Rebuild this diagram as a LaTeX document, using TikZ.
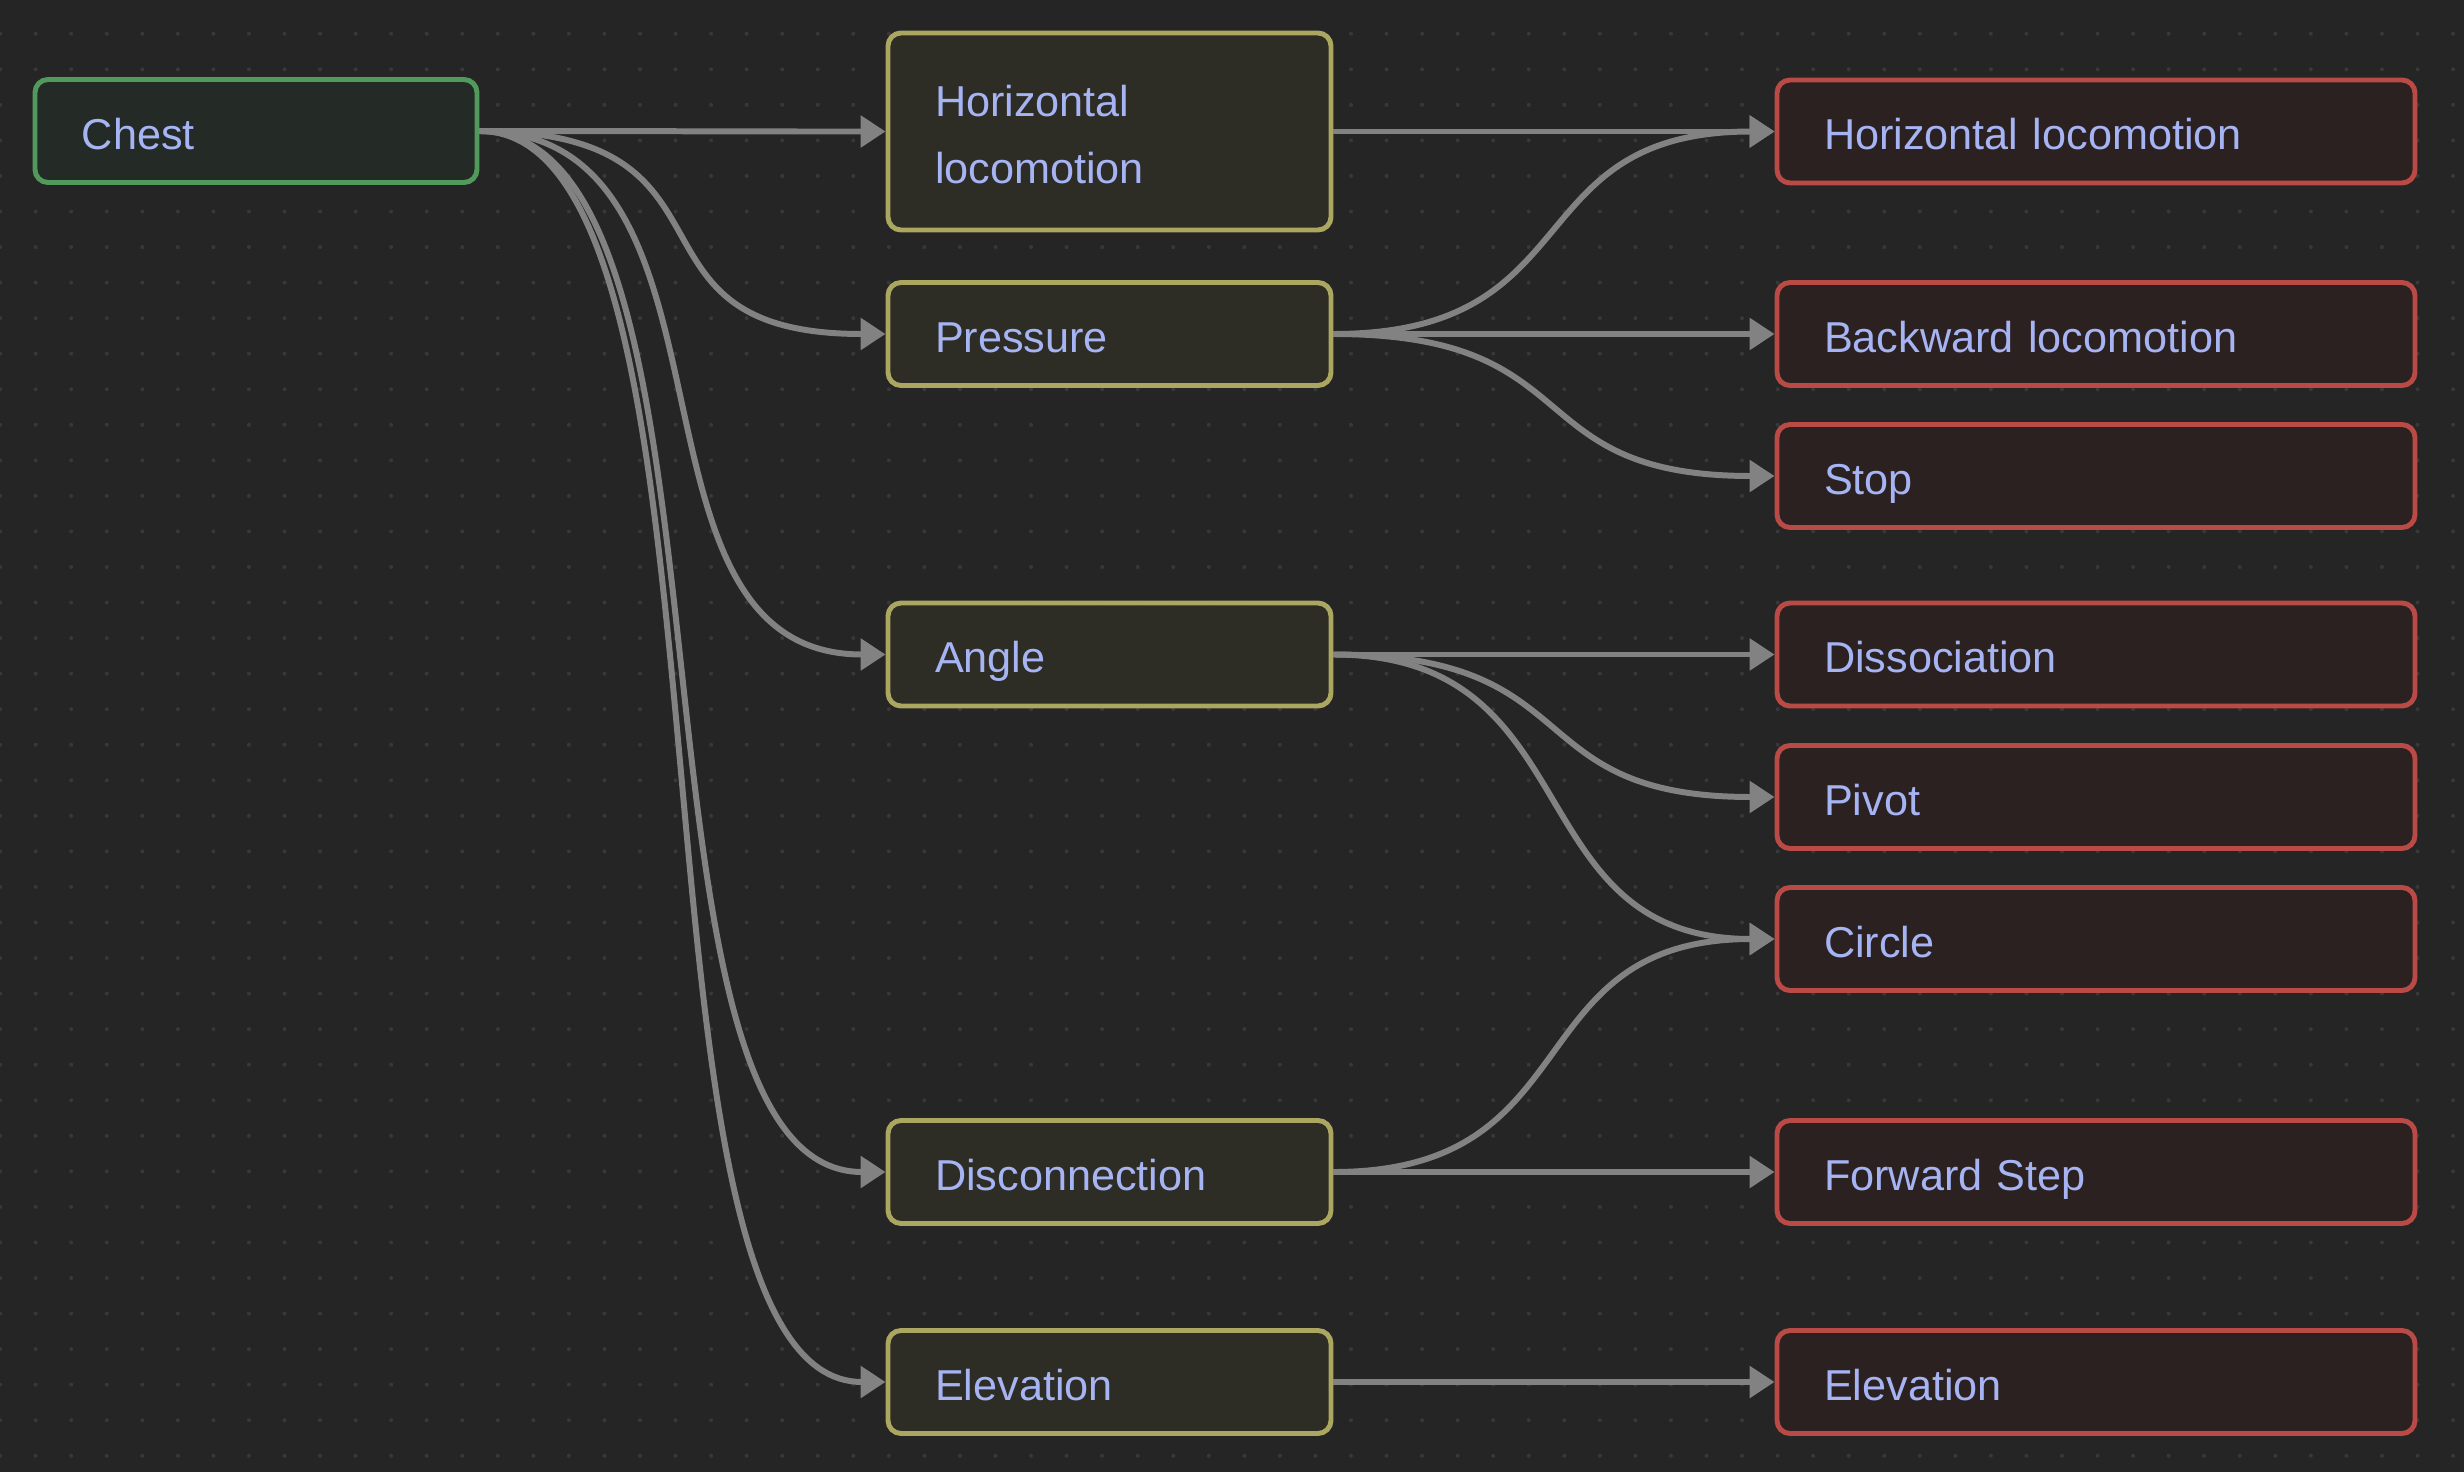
\documentclass[tikz,border=0pt]{standalone}
\usepackage{fontspec}
\setmainfont{Liberation Sans}
\usetikzlibrary{arrows.meta}

\definecolor{canvasbg}{HTML}{252525}
\definecolor{griddot}{HTML}{383838}
\definecolor{nodetext}{HTML}{A6B4F4}
\definecolor{rootline}{HTML}{519A5B}
\definecolor{rootfill}{HTML}{242A25}
\definecolor{featline}{HTML}{ABA760}
\definecolor{featfill}{HTML}{2D2C25}
\definecolor{actline}{HTML}{B94A46}
\definecolor{actfill}{HTML}{2C2121}
\definecolor{wiregray}{HTML}{828282}

\newcommand{\boxstrut}{\rule[-4.4pt]{0pt}{19.3pt}}

\begin{document}
\begin{tikzpicture}[
	box/.style={draw, line width=1.4pt, rounded corners=0.13cm, inner xsep=0.47cm, inner ysep=0pt,
		minimum height=1.03cm, align=left, text=nodetext, font=\fontsize{12.3}{19.3}\selectfont,
		execute at begin node=\boxstrut, execute at end node=\boxstrut},
	rootbox/.style={box, draw=rootline, fill=rootfill, text width=3.48cm},
	featbox/.style={box, draw=featline, fill=featfill, text width=3.49cm},
	actbox/.style={box, draw=actline, fill=actfill, text width=5.44cm},
	wire/.style={draw=wiregray, line width=1.7pt, -{Triangle[length=0.25cm,width=0.31cm]},
		out=0, in=180, distance=#1},
	wire/.default=2.8cm
]
	\fill[canvasbg] (0,0) rectangle (24.64,-14.72);
	\useasboundingbox (0,0) rectangle (24.64,-14.72);
	\foreach \i in {0,...,69}
		\foreach \j in {0,...,40}
			\fill[griddot] (0.001+0.3555*\i,-0.3375-0.3555*\j) circle (0.02);

	\node[rootbox] at (2.56,-1.31) (chest) {Chest};

	\node[featbox, minimum height=1.97cm] at (11.095,-1.315) (hloc) {Horizontal\\locomotion};
	\node[featbox] at (11.095,-3.34) (pressure) {Pressure};
	\node[featbox] at (11.095,-6.545) (angle) {Angle};
	\node[featbox] at (11.095,-11.72) (disconn) {Disconnection};
	\node[featbox] at (11.095,-13.82) (elev) {Elevation};

	\node[actbox] at (20.96,-1.315) (hlocact) {Horizontal locomotion};
	\node[actbox] at (20.96,-3.34) (backward) {Backward locomotion};
	\node[actbox] at (20.96,-4.76) (stop) {Stop};
	\node[actbox] at (20.96,-6.545) (dissoc) {Dissociation};
	\node[actbox] at (20.96,-7.97) (pivot) {Pivot};
	\node[actbox] at (20.96,-9.39) (circle) {Circle};
	\node[actbox] at (20.96,-11.72) (fwdstep) {Forward Step};
	\node[actbox] at (20.96,-13.82) (elevact) {Elevation};

	\draw[wire] (chest.east) to (hloc.west);
	\draw[wire] (chest.east) to (pressure.west);
	\draw[wire] (chest.east) to (angle.west);
	\draw[wire] (chest.east) to (disconn.west);
	\draw[wire] (chest.east) to (elev.west);

	\draw[wire=2.6cm] (hloc.east) to (hlocact.west);
	\draw[wire=2.6cm] (pressure.east) to (hlocact.west);
	\draw[wire=2.6cm] (pressure.east) to (backward.west);
	\draw[wire=2.6cm] (pressure.east) to (stop.west);
	\draw[wire=2.6cm] (angle.east) to (dissoc.west);
	\draw[wire=2.6cm] (angle.east) to (pivot.west);
	\draw[wire=2.6cm] (angle.east) to (circle.west);
	\draw[wire=2.6cm] (disconn.east) to (circle.west);
	\draw[wire=2.6cm] (disconn.east) to (fwdstep.west);
	\draw[wire=2.6cm] (elev.east) to (elevact.west);
\end{tikzpicture}
\end{document}
